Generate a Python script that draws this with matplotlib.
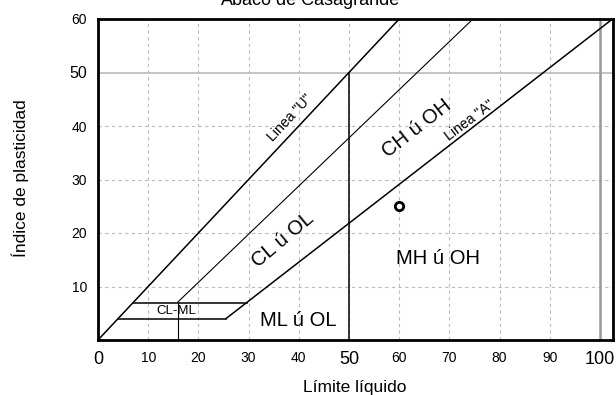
import numpy as np
import matplotlib.pyplot as plt

plt.rcParams['font.family'] = ['Liberation Sans', 'DejaVu Sans']

# boundary lines (liquid limit, plasticity index)
u_line_ll = [0, 60]
u_line_pi = [0, 60]
a_line_ll = [25.5, 102.5]
a_line_pi = [4, 60]
mid_line_ll = [15.8, 74.7]
mid_line_pi = [7, 60]
clml_top_ll = [7, 29.6]
clml_top_pi = [7, 7]
clml_bot_ll = [4, 25.5]
clml_bot_pi = [4, 4]
clml_div_ll = [16, 16]
clml_div_pi = [0, 7]
ll50_ll = [50, 50]
ll50_pi = [0, 50]

sample_ll = [60]
sample_pi = [25]

xticks = [0, 10, 20, 30, 40, 50, 60, 70, 80, 90, 100]
yticks = [10, 20, 30, 40, 50, 60]
big_x = [0, 50, 100]
big_y = [50]

fig = plt.figure(figsize=(6.16, 3.95), dpi=100)
ax = fig.add_axes([98/616, 1-340/395, 515/616, 321/395])
ax.set_xlim(0, 102.6)
ax.set_ylim(0, 60)

# grid
for x in range(10, 100, 10):
    ax.axvline(x, color='#bbbbbb', lw=0.8, ls=(0, (3, 3)), zorder=0)
for y in range(10, 50, 10):
    ax.axhline(y, color='#bbbbbb', lw=0.8, ls=(0, (3, 3)), zorder=0)
ax.axhline(50, color='#bbbbbb', lw=1.2, zorder=0)
ax.axvline(100, color='#999999', lw=1.8, zorder=0)

k = dict(color='black', lw=1.1)
ax.plot(u_line_ll, u_line_pi, **k)
ax.plot(a_line_ll, a_line_pi, **k)
ax.plot(mid_line_ll, mid_line_pi, color='black', lw=0.8)
ax.plot(clml_top_ll, clml_top_pi, **k)
ax.plot(clml_bot_ll, clml_bot_pi, **k)
ax.plot(clml_div_ll, clml_div_pi, color='black', lw=0.8)
ax.plot(ll50_ll, ll50_pi, **k)

ax.plot(sample_ll, sample_pi, 'o', ms=6, mfc='white', mec='black', mew=2)

ax.text(38.2, 41.5, 'Linea "U"', rotation=47, ha='center', va='center', fontsize=10.2)
ax.text(74, 41, 'Linea "A"', rotation=37, ha='center', va='center', fontsize=10.2)
ax.text(63.5, 39.6, 'CH ú OH', rotation=38, ha='center', va='center', fontsize=14.5)
ax.text(36.8, 18.7, 'CL ú OL', rotation=40, ha='center', va='center', fontsize=14.5)
ax.text(67.7, 15.3, 'MH ú OH', ha='center', va='center', fontsize=14.5)
ax.text(39.8, 3.6, 'ML ú OL', ha='center', va='center', fontsize=14.5)
ax.text(15.7, 5.5, 'CL-ML', ha='center', va='center', fontsize=9.5)

ax.set_xticks(xticks)
ax.set_yticks(yticks)
ax.set_xticklabels([str(v) for v in xticks])
ax.set_yticklabels([str(v) for v in yticks])
ax.tick_params(length=0, pad=8)
for lab, v in zip(ax.get_xticklabels(), xticks):
    lab.set_fontsize(13 if v in big_x else 10)
for lab, v in zip(ax.get_yticklabels(), yticks):
    lab.set_fontsize(11.5 if v in big_y else 10)

for s in ax.spines.values():
    s.set_linewidth(2)
    s.set_color('black')

fig.text(355/616, 1-392/395, 'Límite líquido', ha='center', va='baseline', fontsize=12.5)
fig.text(20/616, 1-178/395, 'Índice de plasticidad', ha='center', va='center',
         rotation=90, fontsize=12.5)
fig.text(310/616, 1-5/395, 'Ábaco de Casagrande', ha='center', va='baseline', fontsize=13)

fig.savefig('out.png', dpi=100)
